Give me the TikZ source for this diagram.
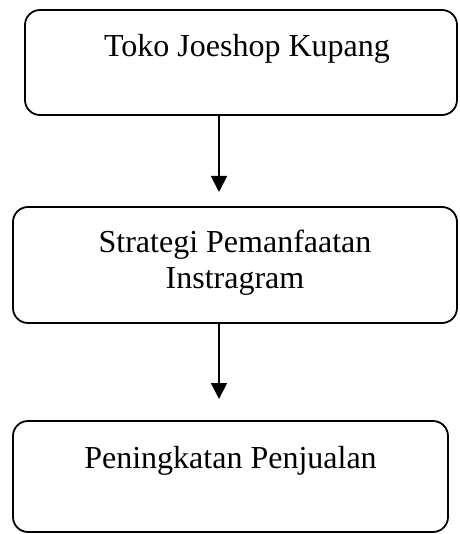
\documentclass[tikz,border=0pt]{standalone}
\usepackage{fontspec}
\setmainfont{Liberation Serif}
\usetikzlibrary{arrows.meta}

\tikzset{
	box/.style={draw, line width=1.8pt, rounded corners=15pt, inner sep=0pt},
	txt/.style={font=\fontsize{32}{35.5}\selectfont, inner sep=0pt, align=center, anchor=base},
	arr/.style={line width=1.8pt, -{Triangle[width=16pt,length=16pt]}}
}

\begin{document}
\begin{tikzpicture}[x=1pt, y=-1pt]
	\useasboundingbox (0,0) rectangle (459,534);

	\node[box, minimum width=432pt, minimum height=105pt] (toko) at (241, 62.5) {};
	\node[box, minimum width=444pt, minimum height=116pt] (strategi) at (235, 265) {};
	\node[box, minimum width=435pt, minimum height=111pt] (penjualan) at (230.5, 476.5) {};

	\node[txt] (tokotxt) at (247, 57) {Toko Joeshop Kupang};
	\node[txt] (strategitxt) at (235, 288) {Strategi Pemanfaatan\\Instragram};
	\node[txt] (penjualantxt) at (230.5, 468) {Peningkatan Penjualan};

	\coordinate (a1) at (219, 192);
	\coordinate (a2) at (219, 399);

	\draw[arr] (toko.south -| a1) -- (a1);
	\draw[arr] (strategi.south -| a2) -- (a2);
\end{tikzpicture}
\end{document}
